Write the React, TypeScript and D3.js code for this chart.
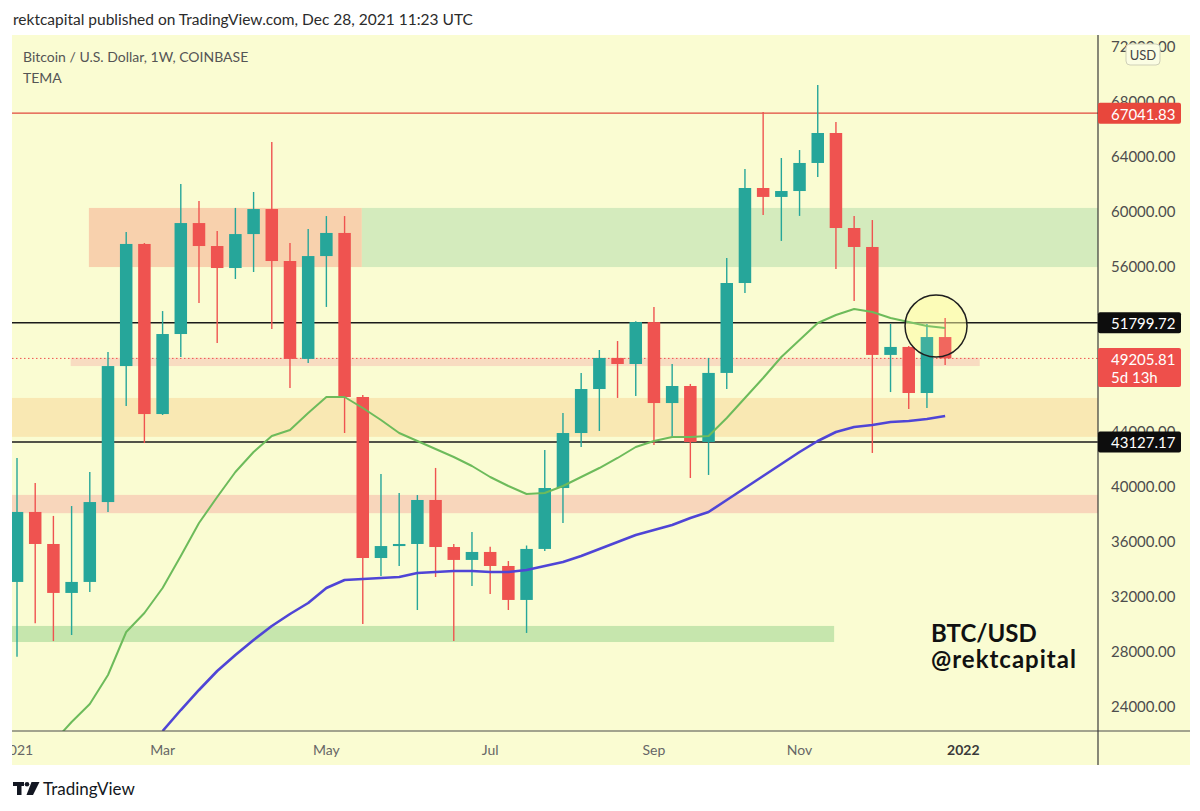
import React from "react";
import * as d3 from "d3";

// ---------- DATA ----------
const weeks = [
  "2021-01-04","2021-01-11","2021-01-18","2021-01-25","2021-02-01","2021-02-08","2021-02-15","2021-02-22",
  "2021-03-01","2021-03-08","2021-03-15","2021-03-22","2021-03-29","2021-04-05","2021-04-12","2021-04-19",
  "2021-04-26","2021-05-03","2021-05-10","2021-05-17","2021-05-24","2021-05-31","2021-06-07","2021-06-14",
  "2021-06-21","2021-06-28","2021-07-05","2021-07-12","2021-07-19","2021-07-26","2021-08-02","2021-08-09",
  "2021-08-16","2021-08-23","2021-08-30","2021-09-06","2021-09-13","2021-09-20","2021-09-27","2021-10-04",
  "2021-10-11","2021-10-18","2021-10-25","2021-11-01","2021-11-08","2021-11-15","2021-11-22","2021-11-29",
  "2021-12-06","2021-12-13","2021-12-20","2021-12-27",
];
const opens = [
  32950, 38040, 35710, 32150, 32950, 38760, 48650, 57530,
  45160, 50980, 59050, 57380, 55780, 58250, 60070, 56290,
  49170, 56650, 58330, 46400, 34690, 35560, 35710, 38910,
  35490, 34550, 35130, 34110, 31640, 35350, 39780, 43780,
  46980, 49240, 48800, 51850, 45960, 47200, 43130, 48150,
  54690, 61600, 60950, 61380, 63420, 65600, 58690, 57310,
  49460, 50040, 46690, 50760,
];
const highs = [
  41960, 40150, 37750, 38470, 40950, 49670, 58400, 57600,
  52650, 61890, 60650, 58470, 60150, 61310, 64950, 57600,
  58620, 59560, 59560, 46550, 40800, 39420, 39270, 41240,
  35710, 36580, 35500, 34470, 35600, 42550, 45240, 48150,
  49820, 50470, 51900, 52950, 48800, 47350, 49240, 56510,
  62980, 67130, 63780, 64360, 69090, 66400, 59560, 59270,
  51710, 50100, 51710, 52150,
];
const lows = [
  27500, 29950, 28650, 29090, 32220, 38040, 45750, 43050,
  45090, 49310, 53240, 50330, 54980, 55490, 51350, 47050,
  48870, 52950, 43780, 29890, 33380, 34110, 30910, 33310,
  28650, 32650, 32070, 30910, 29240, 35200, 37240, 42760,
  43930, 46330, 46470, 42900, 43490, 40510, 40730, 46980,
  53960, 59640, 57750, 59570, 62400, 55710, 53380, 42330,
  46760, 45530, 45600, 48730,
];
const closes = [
  38040, 35710, 32150, 32950, 38760, 48650, 57530, 45160,
  50980, 59050, 57380, 55780, 58250, 60070, 56290, 49170,
  56650, 58330, 46400, 34690, 35560, 35710, 38910, 35490,
  34550, 35130, 34110, 31640, 35350, 39780, 43780, 46980,
  49240, 48800, 51850, 45960, 47200, 43130, 48150, 54690,
  61600, 60950, 61380, 63420, 65600, 58690, 57310, 49460,
  50040, 46690, 50760, 49205.81,
];

// TEMA (green) starts at week index 2
const temaFastStart = 2;
const temaFast = [
  21309, 22764, 24073, 26182, 29309, 30691, 32509, 34836, 37236, 39127,
  40945, 42400, 43564, 44000, 45236, 46400, 46400, 45600, 44727, 43782,
  43200, 42618, 42036, 41382, 40582, 39927, 39345, 39418, 39927, 40582,
  41236, 41964, 42764, 43200, 43491, 43491, 43564, 44873, 46327, 47782,
  49309, 50545, 51782, 52364, 52800, 52582, 52145, 51855, 51564, 51418,
];
// longer TEMA (blue) starts at week index 8
const temaSlowStart = 8;
const temaSlow = [
  22109, 23636, 25091, 26473, 27636, 28727, 29745, 30618, 31418, 32509,
  33091, 33164, 33236, 33309, 33600, 33673, 33745, 33745, 33673, 33673,
  33818, 34109, 34400, 34836, 35345, 35855, 36364, 36727, 37091, 37600,
  38036, 38909, 39782, 40655, 41527, 42400, 43200, 43855, 44218, 44364,
  44582, 44655, 44800, 45018,
];

// 48000 and 52000 sit under the price tags, as in the reference
const priceTicks = [24000, 28000, 32000, 36000, 40000, 44000, 56000, 60000, 64000, 68000, 72000];
const timeTickIdx = [0, 8, 17, 26, 35, 43, 52];
const timeTickLabels = ["2021", "Mar", "May", "Jul", "Sep", "Nov", "2022"];

const athLevel = 67041.83;
const keyLevels = [51799.72, 43127.17];
const lastPrice = 49205.81;
const countdown = "5d 13h";

// zones: [startIdx, endIdx (null = right edge, -1 = left edge), low, high, fill]
const zoneStart = [3.95, 18.95, 2.95, -1, -1, -1];
const zoneEnd = [18.95, null, 52.9, null, null, 44.9];
const zoneLow = [55850, 55850, 48650, 43500, 37950, 28580];
const zoneHigh = [60150, 60150, 49250, 46330, 39280, 29750];
const zoneFill = ["#f8d1ad", "#d4ebbd", "#f8dcc1", "#f9e8b3", "#f8d6bb", "#c6e6ad"];

const circleIdx = 50.5;
const circlePrice = 51560;

// ---------- LAYOUT ----------
const W = 1200;
const H = 811;
const bgLeft = 12, bgRight = 1190, bgTop = 35, bgBottom = 765;
const plotRight = 1098, plotBottom = 731;

const UP = "#26a69a";
const DOWN = "#ef5350";

export default function App() {
  const x = d3.scaleLinear().domain([-0.275, 59.4]).range([bgLeft, plotRight]);
  const y = d3.scaleLinear().domain([22109, 72727]).range([plotBottom, bgTop]);
  const bodyW = 12.5;

  const lineFast = d3
    .line<number>()
    .x((_, i) => x(i + temaFastStart))
    .y((d) => y(d))
    .curve(d3.curveLinear);
  const lineSlow = d3
    .line<number>()
    .x((_, i) => x(i + temaSlowStart))
    .y((d) => y(d))
    .curve(d3.curveLinear);

  const font = "Lato, 'Open Sans', sans-serif";

  return (
    <svg
      width={W}
      height={H}
      style={{ position: "absolute", left: 0, top: 0, background: "#ffffff" }}
      fontFamily={font}
    >
      <defs>
        <clipPath id="plot">
          <rect x={bgLeft} y={bgTop} width={plotRight - bgLeft} height={plotBottom - bgTop} />
        </clipPath>
        <clipPath id="xaxis">
          <rect x={bgLeft} y={plotBottom} width={plotRight - bgLeft} height={bgBottom - plotBottom} />
        </clipPath>
      </defs>

      {/* header */}
      <text x={13} y={25} fontSize={15.5} fill="#2b2b2b">
        rektcapital published on TradingView.com, Dec 28, 2021 11:23 UTC
      </text>

      {/* chart background */}
      <rect x={bgLeft} y={bgTop} width={bgRight - bgLeft} height={bgBottom - bgTop} fill="#fafcd2" />

      <g clipPath="url(#plot)">
        {/* zones */}
        {zoneLow.map((lo, k) => {
          const x0 = zoneStart[k] < 0 ? bgLeft : x(zoneStart[k]);
          const x1 = zoneEnd[k] === null ? plotRight : x(zoneEnd[k] as number);
          return (
            <rect
              key={"z" + k}
              x={x0}
              y={y(zoneHigh[k])}
              width={x1 - x0}
              height={y(lo) - y(zoneHigh[k])}
              fill={zoneFill[k]}
            />
          );
        })}

        {/* horizontal levels */}
        <line x1={bgLeft} x2={plotRight} y1={y(athLevel)} y2={y(athLevel)} stroke="#e0483c" strokeWidth={1.2} />
        {keyLevels.map((v) => (
          <line key={v} x1={bgLeft} x2={plotRight} y1={y(v)} y2={y(v)} stroke="#1a1a1a" strokeWidth={1.3} />
        ))}
        <line
          x1={bgLeft}
          x2={plotRight}
          y1={y(lastPrice)}
          y2={y(lastPrice)}
          stroke="#ef5350"
          strokeWidth={1}
          strokeDasharray="1.5,2.5"
        />

        {/* highlight circle fill (under candles) */}
        <circle cx={x(circleIdx)} cy={y(circlePrice)} r={31} fill="rgba(255, 252, 150, 0.45)" />

        {/* candles */}
        {opens.map((o, i) => {
          const c = closes[i];
          const up = c >= o;
          const col = up ? UP : DOWN;
          const cx = x(i);
          const top = y(Math.max(o, c));
          const bot = y(Math.min(o, c));
          return (
            <g key={weeks[i]}>
              <line x1={cx} x2={cx} y1={y(highs[i])} y2={y(lows[i])} stroke={col} strokeWidth={1.4} />
              <rect x={cx - bodyW / 2} y={top} width={bodyW} height={Math.max(1.5, bot - top)} fill={col} />
            </g>
          );
        })}

        {/* TEMA lines */}
        <path d={lineSlow(temaSlow) || ""} fill="none" stroke="#4f45d6" strokeWidth={2.6} strokeLinejoin="round" />
        <path d={lineFast(temaFast) || ""} fill="none" stroke="#6dbb5b" strokeWidth={2} strokeLinejoin="round" />

        {/* highlight circle outline */}
        <circle
          cx={x(circleIdx)}
          cy={y(circlePrice)}
          r={31}
          fill="rgba(255, 255, 200, 0.12)"
          stroke="#1f1f1f"
          strokeWidth={1.5}
        />
      </g>

      {/* legend texts */}
      <text x={23} y={62} fontSize={14} fill="#555">
        Bitcoin / U.S. Dollar, 1W, COINBASE
      </text>
      <text x={23} y={83} fontSize={14} fill="#555">
        TEMA
      </text>

      {/* watermark */}
      <text x={931} y={642} fontSize={24} fontWeight={700} fill="#111">
        BTC/USD
      </text>
      <text x={931} y={668} fontSize={24} fontWeight={700} fill="#111" letterSpacing={1}>
        @rektcapital
      </text>

      {/* axes lines */}
      <line x1={bgLeft} x2={bgRight} y1={plotBottom} y2={plotBottom} stroke="#4a4a4a" strokeWidth={1.2} />
      <line x1={plotRight} x2={plotRight} y1={bgTop} y2={bgBottom} stroke="#3a3a3a" strokeWidth={1.2} />

      {/* time axis labels */}
      <g clipPath="url(#xaxis)">
        {timeTickIdx.map((t, k) => (
          <text
            key={timeTickLabels[k]}
            x={x(t)}
            y={749}
            fontSize={14}
            textAnchor="middle"
            dominantBaseline="central"
            fill={timeTickLabels[k] === "2022" ? "#3a3a3a" : "#666"}
            fontWeight={timeTickLabels[k] === "2022" ? 700 : 400}
          >
            {timeTickLabels[k]}
          </text>
        ))}
      </g>

      {/* price axis labels */}
      {priceTicks.map((v) => (
        <text key={v} x={1111} y={y(v) + 1.5} fontSize={15} dominantBaseline="central" fill="#4d4d4d">
          {d3.format(".2f")(v)}
        </text>
      ))}

      {/* USD badge */}
      <rect x={1126} y={44} width={34} height={21} rx={4} fill="#fbfde3" stroke="#cfd0b8" strokeWidth={1} />
      <text x={1143} y={55} fontSize={13} textAnchor="middle" dominantBaseline="central" fill="#444">
        USD
      </text>

      {/* price tags */}
      <rect x={plotRight} y={y(athLevel) - 10.5} width={83} height={21} rx={2} fill="#e8473c" />
      <text x={1111} y={y(athLevel) + 0.5} fontSize={15} dominantBaseline="central" fill="#fff">
        {d3.format(".2f")(athLevel)}
      </text>
      {keyLevels.map((v) => (
        <g key={"tag" + v}>
          <rect x={plotRight} y={y(v) - 10.5} width={83} height={21} rx={2} fill="#0d0d0d" />
          <text x={1111} y={y(v) + 0.5} fontSize={15} dominantBaseline="central" fill="#fff">
            {d3.format(".2f")(v)}
          </text>
        </g>
      ))}
      <rect x={plotRight} y={y(lastPrice) - 10.5} width={83} height={39} rx={2} fill="#ee4f4b" />
      <text x={1111} y={y(lastPrice) + 1} fontSize={15} dominantBaseline="central" fill="#fff">
        {d3.format(".2f")(lastPrice)}
      </text>
      <text x={1111} y={y(lastPrice) + 18.5} fontSize={15} dominantBaseline="central" fill="#fff">
        {countdown}
      </text>

      {/* TradingView footer logo */}
      <g fill="#131722">
        <rect x={13} y={782} width={11} height={4} />
        <rect x={17} y={782} width={4.5} height={13} />
        <circle cx={27} cy={784.3} r={2.3} />
        <polygon points="31.5,782 39.5,782 33,795 26.5,795" />
      </g>
      <text x={43} y={795} fontSize={17} fill="#131722">
        TradingView
      </text>
    </svg>
  );
}
